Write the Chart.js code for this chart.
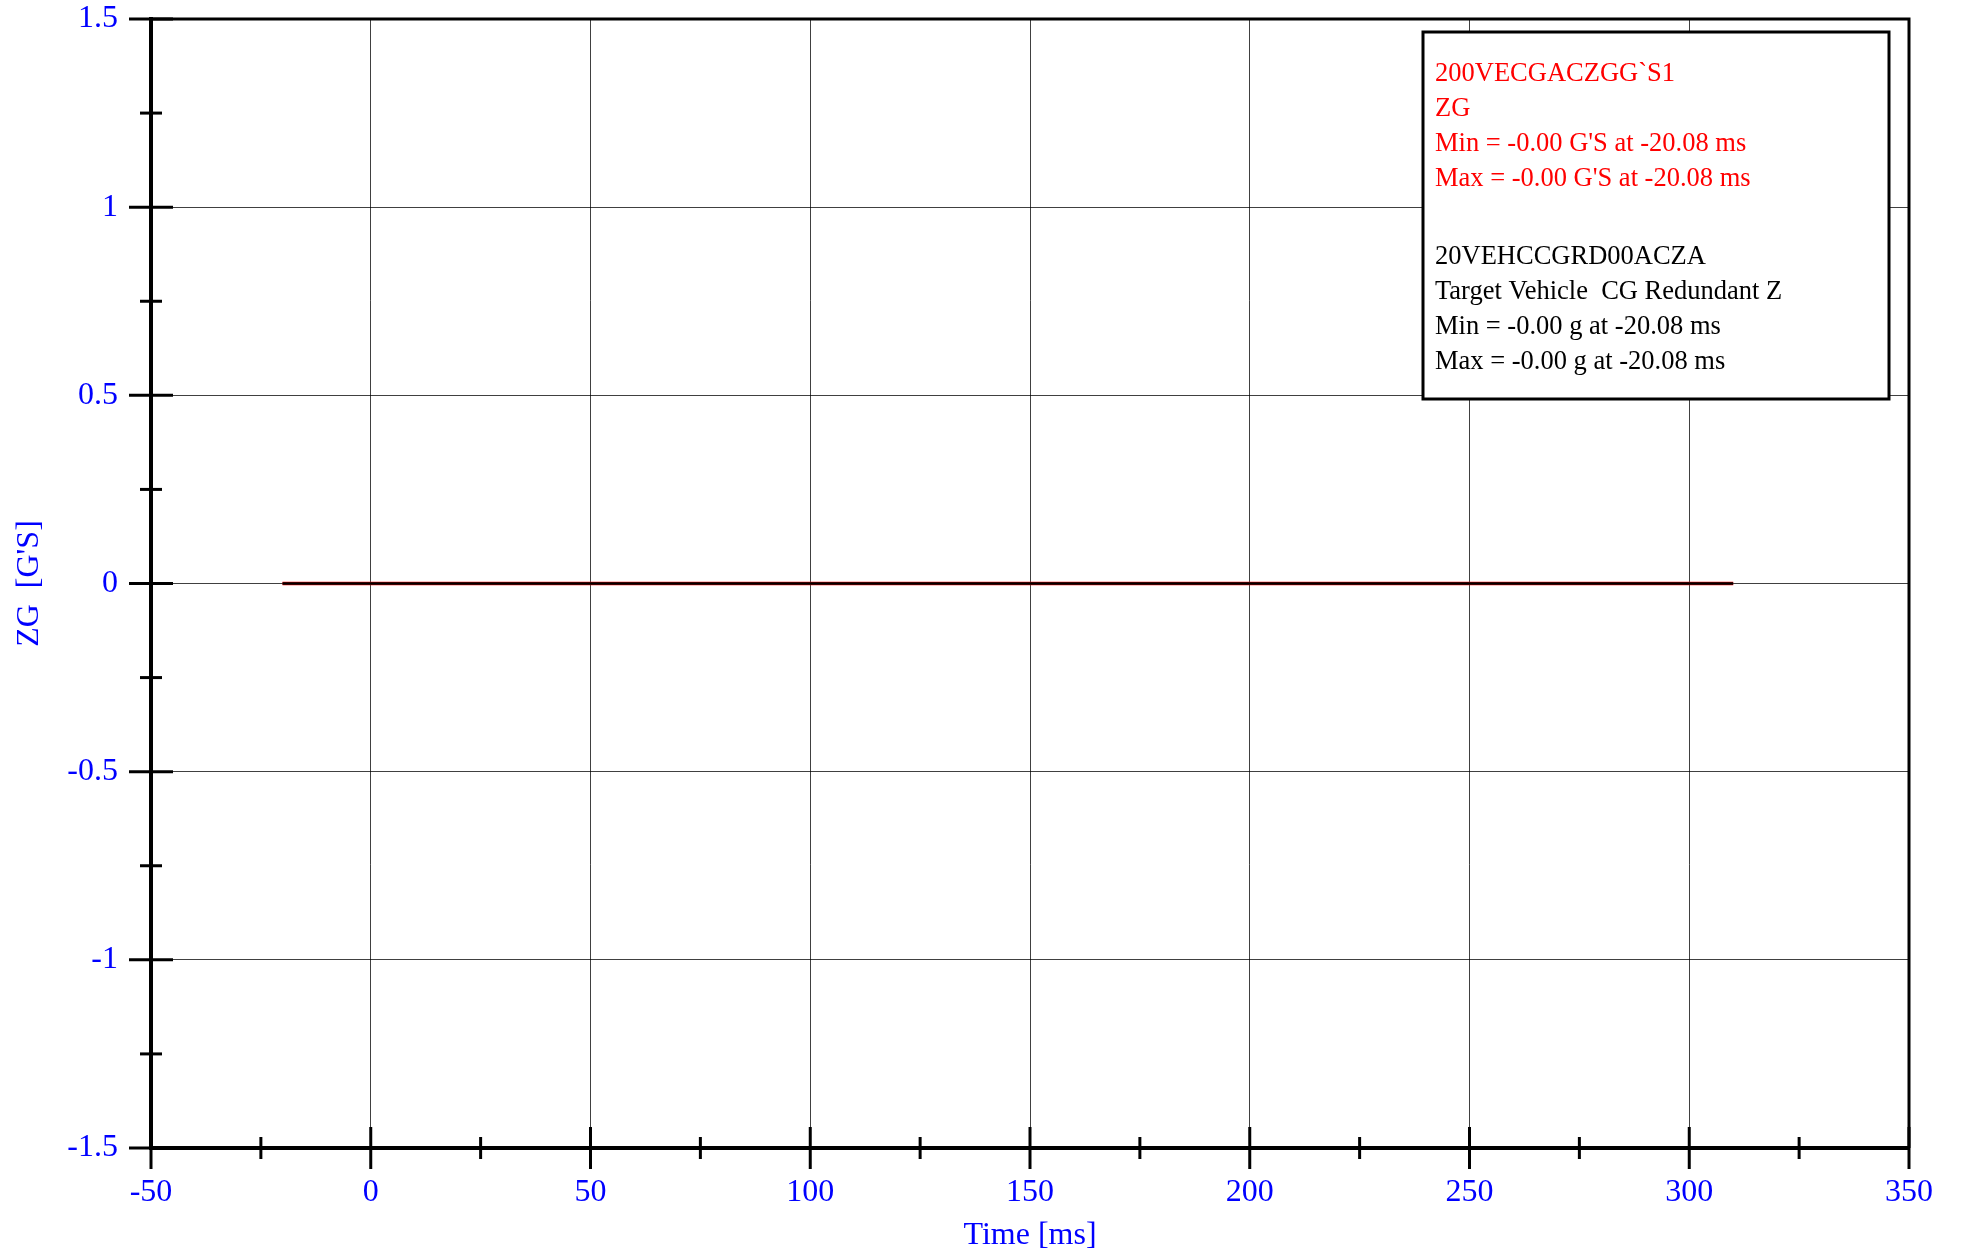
<!DOCTYPE html>
<html>
<head>
<meta charset="utf-8">
<style>
  html, body { margin: 0; padding: 0; background: #fff; }
  #wrap { width: 1963px; height: 1256px; }
</style>
<script src="https://cdn.jsdelivr.net/npm/chart.js@4"></script>
</head>
<body>
<div id="wrap"><canvas id="chart"></canvas></div>
<script>
// channel traces (time in ms, value in G's)
const timeMs = [-20.08, 310];
const zgValues = [0, 0];
const zRedundantValues = [0, 0];

const xMajorTicks = [-50, 0, 50, 100, 150, 200, 250, 300, 350];
const xMinorTicks = [-25, 25, 75, 125, 175, 225, 275, 325];
const yMajorTicks = [-1.5, -1, -0.5, 0, 0.5, 1, 1.5];
const yMinorTicks = [-1.25, -0.75, -0.25, 0.25, 0.75, 1.25];

const legendLines = [
  { text: '200VECGACZGG`S1', color: '#ff0000' },
  { text: 'ZG', color: '#ff0000' },
  { text: "Min = -0.00 G'S at -20.08 ms", color: '#ff0000' },
  { text: "Max = -0.00 G'S at -20.08 ms", color: '#ff0000' },
  { text: '20VEHCCGRD00ACZA', color: '#000000' },
  { text: 'Target Vehicle  CG Redundant Z', color: '#000000' },
  { text: 'Min = -0.00 g at -20.08 ms', color: '#000000' },
  { text: 'Max = -0.00 g at -20.08 ms', color: '#000000' }
];

const FONT = "'Liberation Serif', 'Times New Roman', serif";
const BLUE = '#0000ff';

function toPoints(xs, ys) {
  return xs.map((x, i) => ({ x: x, y: ys[i] }));
}

// crossing tick marks + heavy frame + info box
const frameTicks = {
  id: 'frameTicks',
  afterDatasetsDraw(chart) {
    const { ctx, chartArea: a, scales: { x, y } } = chart;
    ctx.save();
    ctx.strokeStyle = '#000';
    ctx.lineCap = 'butt';

    // top and right border
    ctx.lineWidth = 3;
    ctx.beginPath();
    ctx.moveTo(a.left, a.top);
    ctx.lineTo(a.right, a.top);
    ctx.lineTo(a.right, a.bottom);
    ctx.stroke();

    const drawY = (vals, half) => {
      vals.forEach(v => {
        const py = y.getPixelForValue(v);
        ctx.beginPath();
        ctx.moveTo(a.left - half, py);
        ctx.lineTo(a.left + half, py);
        ctx.stroke();
      });
    };
    const drawX = (vals, half) => {
      vals.forEach(v => {
        const px = x.getPixelForValue(v);
        ctx.beginPath();
        ctx.moveTo(px, a.bottom - half);
        ctx.lineTo(px, a.bottom + half);
        ctx.stroke();
      });
    };
    drawY(yMajorTicks, 22);
    drawY(yMinorTicks, 11);
    drawX(xMajorTicks, 21);
    drawX(xMinorTicks, 11);
    ctx.restore();
  },
  afterDraw(chart) {
    const { ctx, chartArea: a } = chart;
    const boxW = 466, boxH = 367;
    const bx = a.right - 20 - boxW;
    const by = a.top + 13;
    ctx.save();
    ctx.fillStyle = '#fff';
    ctx.fillRect(bx, by, boxW, boxH);
    ctx.lineWidth = 3;
    ctx.strokeStyle = '#000';
    ctx.strokeRect(bx, by, boxW, boxH);

    ctx.font = '26.5px ' + FONT;
    ctx.textBaseline = 'alphabetic';
    ctx.textAlign = 'left';
    const baselines = [49, 84, 119, 154, 232, 267, 302, 337];
    legendLines.forEach((ln, i) => {
      ctx.fillStyle = ln.color;
      ctx.fillText(ln.text, bx + 12, by + baselines[i]);
    });
    ctx.restore();
  }
};

const ctx = document.getElementById('chart').getContext('2d');
new Chart(ctx, {
  type: 'scatter',
  data: {
    datasets: [
      {
        label: '200VECGACZGG`S1',
        data: toPoints(timeMs, zgValues),
        borderColor: '#ff0000',
        borderWidth: 3.5,
        showLine: true,
        pointRadius: 0,
        fill: false,
        order: 2
      },
      {
        label: '20VEHCCGRD00ACZA',
        data: toPoints(timeMs, zRedundantValues),
        borderColor: '#000000',
        borderWidth: 2.5,
        showLine: true,
        pointRadius: 0,
        fill: false,
        order: 1
      }
    ]
  },
  options: {
    responsive: true,
    maintainAspectRatio: false,
    animation: false,
    layout: { padding: { left: 0, top: 19, right: 54, bottom: 0 } },
    plugins: {
      legend: { display: false },
      tooltip: { enabled: false }
    },
    scales: {
      x: {
        type: 'linear',
        position: 'bottom',
        min: -50,
        max: 350,
        afterBuildTicks: s => { s.ticks = xMajorTicks.map(v => ({ value: v })); },
        afterFit: s => { s.height = 108; },
        ticks: {
          color: BLUE,
          font: { family: FONT, size: 32 },
          padding: 25,
          maxRotation: 0,
          callback: v => String(v)
        },
        grid: { color: 'rgba(0,0,0,0.75)', lineWidth: 1, drawTicks: false },
        border: { color: '#000', width: 4 },
        title: {
          display: true,
          text: 'Time [ms]',
          color: BLUE,
          font: { family: FONT, size: 32 },
          padding: { top: 0, bottom: 1 }
        }
      },
      y: {
        type: 'linear',
        min: -1.5,
        max: 1.5,
        afterBuildTicks: s => { s.ticks = yMajorTicks.map(v => ({ value: v })); },
        afterFit: s => { s.width = 151; s.paddingTop = 0; s.paddingBottom = 0; },
        ticks: {
          color: BLUE,
          font: { family: FONT, size: 32, lineHeight: 0.5 },
          padding: 33,
          callback: v => String(v)
        },
        grid: { color: 'rgba(0,0,0,0.75)', lineWidth: 1, drawTicks: false },
        border: { color: '#000', width: 4 },
        title: {
          display: true,
          text: "ZG  [G'S]",
          color: BLUE,
          font: { family: FONT, size: 32 },
          padding: { top: 10, bottom: 0 }
        }
      }
    }
  },
  plugins: [frameTicks]
});
</script>
</body>
</html>
